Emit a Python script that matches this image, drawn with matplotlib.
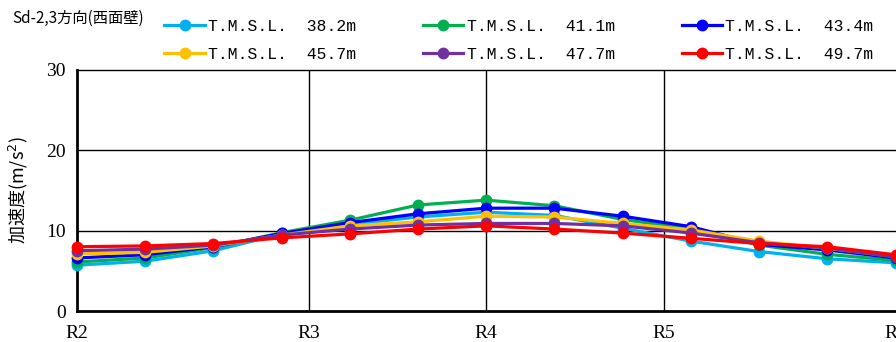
import matplotlib
matplotlib.use("Agg")
import matplotlib.pyplot as plt

# 13 measuring points between R2 and R6
pos = [0, 1, 2, 3, 4, 5, 6, 7, 8, 9, 10, 11, 12]
tick_pos = [0, 3.4, 6, 8.6, 12]
tick_lab = ["R2", "R3", "R4", "R5", "R6"]

labels = ["T.M.S.L.  38.2m", "T.M.S.L.  41.1m", "T.M.S.L.  43.4m",
          "T.M.S.L.  45.7m", "T.M.S.L.  47.7m", "T.M.S.L.  49.7m"]
colors = ["#00B0F0", "#00B050", "#0000FF", "#FFC000", "#7030A0", "#FF0000"]

acc_382 = [5.7, 6.2, 7.5, 9.6, 10.8, 11.7, 12.3, 11.9, 10.3, 8.7, 7.4, 6.5, 6.0]
acc_411 = [6.1, 6.6, 7.9, 9.75, 11.3, 13.2, 13.8, 13.1, 11.4, 10.2, 8.2, 7.05, 6.3]
acc_434 = [6.6, 7.0, 8.0, 9.65, 11.0, 12.1, 12.8, 12.8, 11.8, 10.5, 8.3, 7.6, 6.6]
acc_457 = [7.1, 7.3, 8.1, 9.45, 10.6, 11.1, 11.8, 11.7, 10.9, 10.1, 8.7, 7.8, 6.8]
acc_477 = [7.5, 7.7, 8.2, 9.45, 10.2, 10.7, 10.9, 10.9, 10.6, 9.7, 8.5, 7.85, 6.7]
acc_497 = [8.0, 8.1, 8.4, 9.1, 9.6, 10.2, 10.6, 10.2, 9.7, 9.05, 8.4, 8.0, 7.0]
series = [acc_382, acc_411, acc_434, acc_457, acc_477, acc_497]

jp = ["Noto Sans CJK JP", "DejaVu Sans"]

fig = plt.figure(figsize=(8.96, 3.42), dpi=100)
ax = fig.add_axes([77 / 896, 1 - 311 / 342, 818.5 / 896, 241 / 342])

lines = []
for y, c, lab in zip(series, colors, labels):
    ln, = ax.plot(pos, y, color=c, lw=2.3, marker="o", ms=7.5, label=lab,
                  clip_on=False, zorder=3)
    lines.append(ln)

ax.set_xlim(0, 12)
ax.set_ylim(0, 30)
ax.set_yticks([0, 10, 20, 30])
ax.set_xticks(tick_pos)
ax.set_xticklabels(tick_lab)
for t in ax.get_xticklabels() + ax.get_yticklabels():
    t.set_family("Liberation Serif")
    t.set_fontsize(14)
ax.tick_params(length=0, pad=8)
ax.tick_params(axis="x", pad=10)

for yv in [10, 20]:
    ax.axhline(yv, color="black", lw=1, zorder=1)
for xv in tick_pos[1:4]:
    ax.axvline(xv, color="black", lw=1, zorder=1)

ax.spines["left"].set_linewidth(2)
ax.spines["bottom"].set_linewidth(2)
ax.spines["top"].set_linewidth(1)
ax.spines["right"].set_visible(False)

ax.set_ylabel("加速度(m/s$^2$)", family=jp, fontsize=13, labelpad=12)

fig.text(12 / 896, 1 - 18 / 342, "Sd-2,3方向(西面壁)", family=jp, fontsize=11,
         va="center", ha="left")

order = [0, 3, 1, 4, 2, 5]
fig.legend([lines[i] for i in order], [labels[i] for i in order], ncol=3,
           loc="upper left", bbox_to_anchor=(153 / 896, 0.979), frameon=False,
           prop={"family": "Liberation Mono", "size": 11.8},
           handlelength=2.45, handletextpad=0.2, columnspacing=4.1,
           labelspacing=0.8, borderaxespad=0.3)

fig.savefig("out.png", dpi=100)
